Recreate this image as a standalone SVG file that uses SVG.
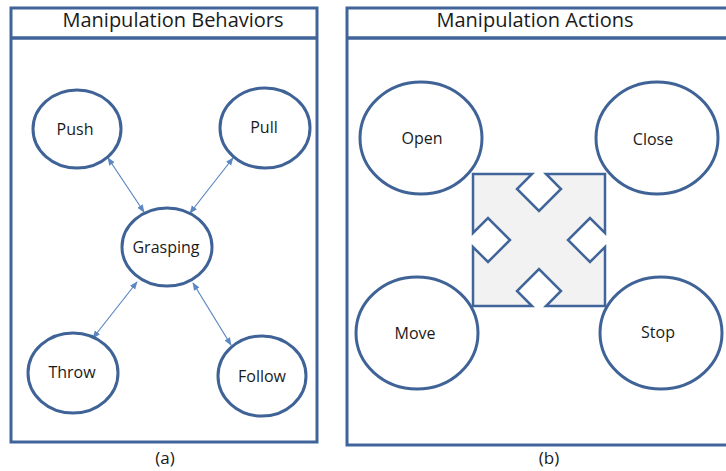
<svg xmlns="http://www.w3.org/2000/svg" width="726" height="471" viewBox="0 0 726 471">
  <style>
    .panel { fill: #ffffff; stroke: #40649A; stroke-width: 3; }
    .node { fill: #ffffff; stroke: #3F6396; stroke-width: 3; }
    .title { font-family: "Open Sans", "Liberation Sans", sans-serif; font-size: 20px; fill: #1a1a1a; text-anchor: middle; }
    .label { font-family: "Open Sans", "Liberation Sans", sans-serif; font-size: 16px; fill: #1a1a1a; text-anchor: middle; }
    .caption { font-family: "Open Sans", "Liberation Sans", sans-serif; font-size: 17px; fill: #1a1a1a; text-anchor: middle; }
    .link { stroke: #5B87C2; stroke-width: 1.2; fill: none; marker-start: url(#tip); marker-end: url(#tip); }
    .cross { fill: #F2F2F2; stroke: #41659A; stroke-width: 2.5; stroke-linejoin: miter; }
  </style>
  <defs>
    <marker id="tip" viewBox="0 0 10 10" refX="9" refY="5" markerWidth="8" markerHeight="8" markerUnits="userSpaceOnUse" orient="auto-start-reverse">
      <path d="M0,1 L10,5 L0,9 z" fill="#5B87C2"/>
    </marker>
  </defs>

  <rect width="726" height="471" fill="#ffffff"/>

  <!-- Panel (a): behaviors -->
  <g id="panel-a">
    <rect class="panel" x="11" y="8" width="306" height="434"/>
    <line x1="11" y1="38" x2="317" y2="38" stroke="#40649A" stroke-width="3.5"/>
    <text class="title" x="173" y="27">Manipulation Behaviors</text>
  </g>

  <!-- Panel (b): actions -->
  <g id="panel-b">
    <rect class="panel" x="347" y="8" width="384" height="437"/>
    <line x1="347" y1="38" x2="731" y2="38" stroke="#40649A" stroke-width="3.5"/>
    <text class="title" x="535" y="27">Manipulation Actions</text>
  </g>

  <!-- Behaviour links -->
  <g id="connectors">
    <line class="link" x1="108" y1="158" x2="144" y2="212"/>
    <line class="link" x1="233" y1="158" x2="190" y2="213"/>
    <line class="link" x1="137" y1="282" x2="93" y2="338"/>
    <line class="link" x1="193" y1="283" x2="231" y2="345"/>
  </g>

  <g id="push">
    <ellipse class="node" cx="77" cy="129" rx="44" ry="39"/>
    <text class="label" x="75" y="135">Push</text>
  </g>
  <g id="pull">
    <ellipse class="node" cx="265" cy="128" rx="45" ry="40"/>
    <text class="label" x="264" y="133">Pull</text>
  </g>
  <g id="grasping">
    <ellipse class="node" cx="167" cy="247" rx="45" ry="39"/>
    <text class="label" x="166" y="253">Grasping</text>
  </g>
  <g id="throw">
    <ellipse class="node" cx="73" cy="373" rx="45" ry="40"/>
    <text class="label" x="72" y="378">Throw</text>
  </g>
  <g id="follow">
    <ellipse class="node" cx="262" cy="376" rx="44" ry="40"/>
    <text class="label" x="262" y="382">Follow</text>
  </g>

  <!-- Four-way arrow block -->
  <g id="four-way">
    <path class="cross" d="M473,174 L532,174 L517,189 L539,211 L561,189 L546,174 L605,174
      L605,233 L590,218 L568,240 L590,262 L605,247 L605,306
      L546,306 L561,291 L539,269 L517,291 L532,306 L473,306
      L473,247 L488,262 L510,240 L488,218 L473,233 Z"/>
  </g>

  <g id="open">
    <ellipse class="node" cx="421" cy="138" rx="61" ry="56"/>
    <text class="label" x="422" y="144">Open</text>
  </g>
  <g id="close">
    <ellipse class="node" cx="657" cy="138" rx="61" ry="56"/>
    <text class="label" x="653" y="145">Close</text>
  </g>
  <g id="move">
    <ellipse class="node" cx="417" cy="333" rx="61" ry="56"/>
    <text class="label" x="415" y="339">Move</text>
  </g>
  <g id="stop">
    <ellipse class="node" cx="661" cy="333" rx="61" ry="56"/>
    <text class="label" x="658" y="338">Stop</text>
  </g>

  <text class="caption" x="165" y="464">(a)</text>
  <text class="caption" x="549" y="464">(b)</text>
</svg>
